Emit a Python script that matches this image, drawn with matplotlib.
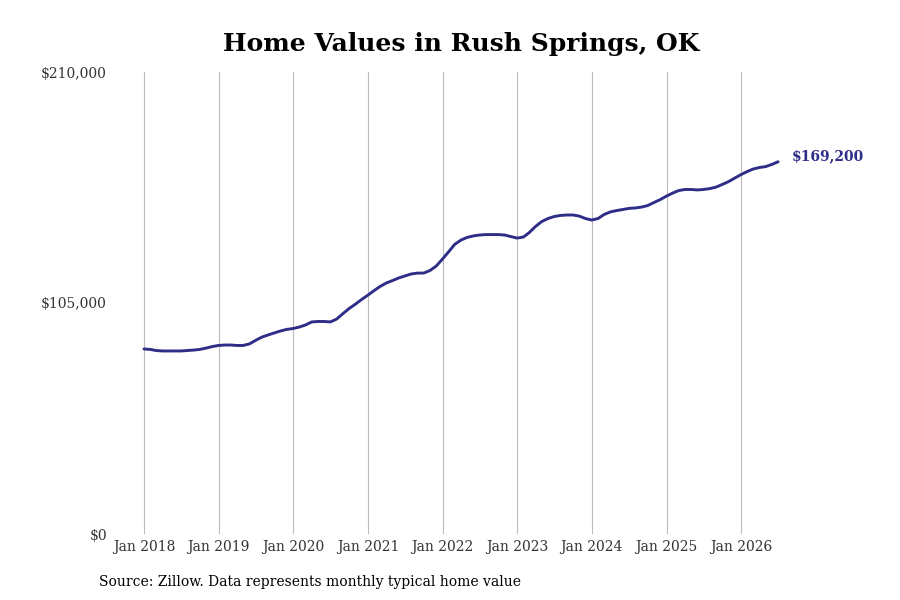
import datetime as dt
import matplotlib
matplotlib.use("Agg")
import matplotlib.pyplot as plt
import matplotlib.dates as mdates
from matplotlib.ticker import FuncFormatter

# monthly typical home value, Jan 2018 - Jul 2026
start_year = 2018
values = [
    84100, 83900, 83400, 83200, 83200, 83200, 83200, 83400, 83600, 83900, 84500, 85200,
    85700, 85900, 85900, 85700, 85700, 86400, 88000, 89500, 90500, 91400, 92300, 93000,
    93400, 94100, 95000, 96400, 96600, 96600, 96400, 97700, 100200, 102500, 104500, 106600,
    108600, 110700, 112500, 114100, 115200, 116400, 117300, 118200, 118600, 118600, 119800, 121800,
    125000, 128400, 131600, 133600, 134800, 135500, 135900, 136100, 136100, 136100, 135900, 135200,
    134500, 135000, 137000, 139800, 142000, 143400, 144300, 144800, 145000, 145000, 144500, 143400,
    142700, 143400, 145200, 146400, 147000, 147500, 148000, 148200, 148600, 149300, 150700, 152000,
    153600, 155000, 156100, 156600, 156600, 156400, 156600, 157000, 157700, 158900, 160200, 161800,
    163400, 164800, 165900, 166600, 167000, 168000, 169200,
]
dates = [dt.date(start_year + i // 12, i % 12 + 1, 1) for i in range(len(values))]
tick_years = list(range(2018, 2027))
y_ticks = [0, 105000, 210000]

title = "Home Values in Rush Springs, OK"
source = "Source: Zillow. Data represents monthly typical home value"
line_color = "#2e2d88"

plt.rcParams['font.family'] = ['DejaVu Serif']

fig = plt.figure(figsize=(9, 6), dpi=100)
ax = fig.add_axes([0.125, 0.11, 0.775, 0.77])

ax.plot(dates, values, color=line_color, linewidth=2.1, solid_capstyle='round')

ax.set_xlim(dt.date(2017, 7, 31), dt.date(2026, 12, 4))
ax.set_ylim(0, 210000)
ax.set_xticks([dt.date(y, 1, 1) for y in tick_years])
ax.xaxis.set_major_formatter(mdates.DateFormatter("Jan %Y"))
ax.set_yticks(y_ticks)
ax.yaxis.set_major_formatter(FuncFormatter(lambda v, p: f"${v:,.0f}"))

ax.grid(axis='x', color='#bbbbbb', linewidth=0.8)
ax.grid(axis='y', visible=False)
for s in ax.spines.values():
    s.set_visible(False)
ax.tick_params(axis='both', length=0, labelsize=10, colors='#333333')
ax.tick_params(axis='x', pad=4)
ax.tick_params(axis='y', pad=4)

ax.annotate(f"${values[-1]:,}", xy=(dates[-1], values[-1]), xytext=(10, 4),
            textcoords='offset points', color=line_color, fontsize=10,
            fontweight='bold', va='center', ha='left')

fig.text(0.512, 0.927, title, ha='center', va='center', fontsize=18, fontweight='bold')
fig.text(0.11, 0.03, source, ha='left', va='center', fontsize=10)

fig.savefig("out.png", dpi=100)
